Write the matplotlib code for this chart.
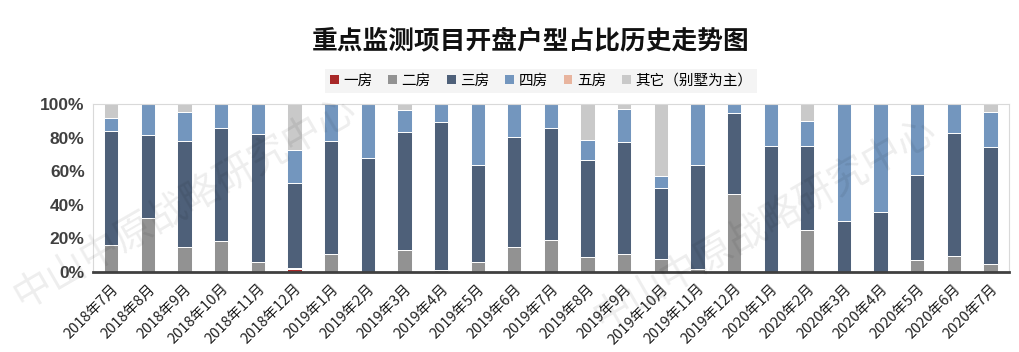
import numpy as np
import matplotlib
matplotlib.use("Agg")
import matplotlib.pyplot as plt
from matplotlib.patches import Patch

plt.rcParams["font.family"] = ["Noto Sans CJK SC", "DejaVu Sans"]

months = ["2018年7月", "2018年8月", "2018年9月", "2018年10月", "2018年11月", "2018年12月",
          "2019年1月", "2019年2月", "2019年3月", "2019年4月", "2019年5月", "2019年6月",
          "2019年7月", "2019年8月", "2019年9月", "2019年10月", "2019年11月", "2019年12月",
          "2020年1月", "2020年2月", "2020年3月", "2020年4月", "2020年5月", "2020年6月",
          "2020年7月"]

# share of each unit type, percent
one_room = [0, 0, 0, 0, 0, 2.0, 0, 0, 0, 0, 0, 0, 0, 0, 0, 0, 0, 0, 0, 0, 0, 0, 0, 0, 0]
two_room = [16.3, 32.0, 15.1, 18.3, 6.2, 0.5, 10.7, 0, 12.9, 1.4, 6.0, 14.9, 18.9, 8.9, 10.5,
            7.8, 2.0, 46.3, 0, 24.9, 0, 0, 7.4, 9.7, 4.8]
three_room = [67.4, 49.5, 62.6, 67.6, 75.7, 50.2, 67.0, 67.8, 70.4, 87.6, 57.4, 65.6, 66.6, 57.7,
              66.6, 42.3, 61.8, 48.3, 75.0, 50.1, 30.6, 35.6, 50.1, 72.8, 69.6]
four_room = [7.8, 18.5, 17.7, 14.1, 18.1, 19.9, 22.3, 32.2, 13.1, 11.0, 36.6, 19.5, 14.5, 11.9,
             19.7, 7.2, 36.2, 5.4, 25.0, 15.1, 69.4, 64.4, 42.5, 17.5, 20.6]
five_room = [0] * 25
other = [8.5, 0, 4.6, 0, 0, 27.4, 0, 0, 3.6, 0, 0, 0, 0, 21.5, 3.2, 42.7, 0, 0, 0, 9.9, 0, 0, 0, 0, 5.0]

series = [("一房", one_room, "#A82828"),
          ("二房", two_room, "#929292"),
          ("三房", three_room, "#4E6079"),
          ("四房", four_room, "#7396BE"),
          ("五房", five_room, "#E8B49E"),
          ("其它（别墅为主）", other, "#C9C9C9")]

fig = plt.figure(figsize=(10.19, 3.52), dpi=100)
ax = fig.add_axes([0.0913, 0.2273, 0.8987, 0.4772])

x = np.arange(len(months))
bottom = np.zeros(len(months))
for name, vals, col in series:
    vals = np.array(vals, dtype=float)
    ax.bar(x, vals, 0.39, bottom=bottom, color=col, edgecolor="white", linewidth=0.7, label=name)
    bottom += vals

ax.set_xlim(-0.5, len(months) - 0.5)
ax.set_ylim(0, 100)
ax.set_yticks(range(0, 101, 20))
ax.set_yticklabels([f"{v}%" for v in range(0, 101, 20)], fontsize=12.5, fontweight="bold",
                   color="#404040", family=["Liberation Sans", "DejaVu Sans"])
ax.set_xticks(x)
ax.set_xticklabels(months, rotation=45, ha="right", rotation_mode="anchor", fontsize=10.5, color="#202020")
ax.tick_params(length=0, pad=6)
ax.tick_params(axis="x", pad=7)

for s in ["top", "right", "left"]:
    ax.spines[s].set_color("#D9D9D9")
    ax.spines[s].set_linewidth(0.8)
ax.spines["bottom"].set_color("#404040")
ax.spines["bottom"].set_linewidth(2)

fig.text(0.521, 0.883, "重点监测项目开盘户型占比历史走势图", ha="center", va="center",
         fontsize=18.5, fontweight="bold", color="#111111")

handles = [Patch(facecolor=c, edgecolor="none") for _, _, c in series]
labels = [n for n, _, _ in series]
leg = fig.legend(handles, labels, ncol=6, loc="center", bbox_to_anchor=(0.531, 0.77),
                 fontsize=10.5, frameon=True, facecolor="#F2F2F2", edgecolor="none",
                 handlelength=0.6, handleheight=0.6, handletextpad=0.3, columnspacing=1.1,
                 fancybox=False, borderpad=0.35)

# watermark
wm = "中山中原战略研究中心"
fig.text(0.025, 0.10, wm, rotation=30, fontsize=28, color="#000000", alpha=0.07,
         ha="left", va="bottom", rotation_mode="anchor", zorder=0)
fig.text(0.595, 0.04, wm, rotation=30, fontsize=28, color="#000000", alpha=0.07,
         ha="left", va="bottom", rotation_mode="anchor", zorder=0)

fig.savefig("out.png", dpi=100)
